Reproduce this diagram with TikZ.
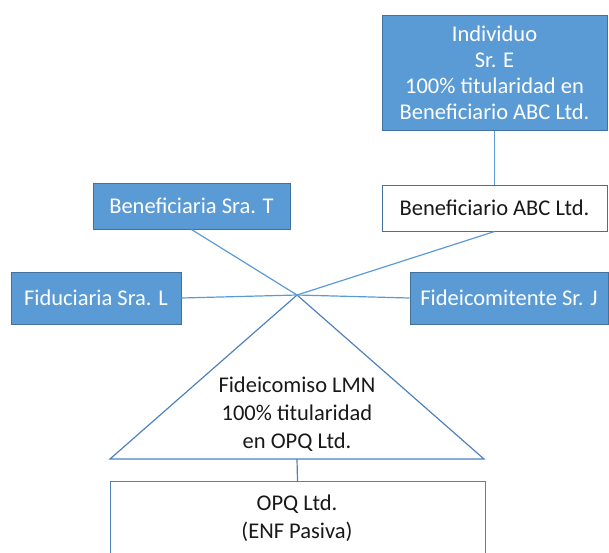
\documentclass[tikz,border=0pt]{standalone}
\usepackage{fontspec}
\setmainfont{Carlito}
\definecolor{boxfill}{HTML}{5B9BD5}
\definecolor{boxline}{HTML}{41719C}
\definecolor{conn}{HTML}{5B9BD5}
\definecolor{shapeline}{HTML}{4F81BD}
\begin{document}
\begin{tikzpicture}[x=1pt,y=-1pt,
  bluebox/.style={draw=boxline,line width=1pt,fill=boxfill,text=white,align=center,inner sep=0pt,
    font=\fontsize{22.5}{26}\selectfont},
  whitebox/.style={draw=boxline,line width=1pt,fill=white,text=black!90,align=center,inner sep=0pt,
    font=\fontsize{22.5}{26}\selectfont},
  conline/.style={draw=conn,line width=1.2pt},
  plain/.style={align=center,inner sep=0pt,text=black!90,font=\fontsize{22.5}{28}\selectfont}]
\useasboundingbox (0,0) rectangle (609,552);
\clip (0,0) rectangle (609,552);
% nodes
\node[bluebox,minimum width=225pt,minimum height=115pt] (ind) at (494.5,72.5)
  {Individuo\\Sr. E\\100\% titularidad en\\Beneficiario ABC Ltd.};
\node[whitebox,minimum width=225pt,minimum height=46pt] (abc) at (494.5,208) {Beneficiario ABC Ltd.};
\node[bluebox,minimum width=197pt,minimum height=46pt] (srat) at (191.5,206) {Beneficiaria Sra. T};
\node[bluebox,minimum width=170pt,minimum height=52pt] (fid) at (96,298) {Fiduciaria Sra. L};
\node[bluebox,minimum width=198pt,minimum height=52pt] (fdc) at (509,298) {Fideicomitente Sr. J};
\coordinate (X) at (297,295);
\coordinate (tl) at (110,459);
\coordinate (tr) at (484,459);
\coordinate (tb) at (297,459);
% triangle
\draw[shapeline,line width=1.2pt,line join=miter] (X) -- (tl) -- (tr) -- cycle;
\node[plain] (tri) at (297,414) {Fideicomiso LMN\\100\% titularidad\\en OPQ Ltd.};
% OPQ box
\node[whitebox,minimum width=375pt,minimum height=110pt,anchor=north west,draw=shapeline] (opq) at (109.5,481) {};
\node[plain] (opqt) at (297,518.5) {OPQ Ltd.\\(ENF Pasiva)};
% connectors
\draw[conline] (ind.south) -- (abc.north);
\draw[conline] (srat.south) -- (X);
\draw[conline] (abc.south) -- (X);
\draw[conline] (fid.east) -- (X);
\draw[conline] (fdc.west) -- (X);
\draw[draw=shapeline,line width=1.2pt] (tb) -- (opq.north);
\end{tikzpicture}
\end{document}
